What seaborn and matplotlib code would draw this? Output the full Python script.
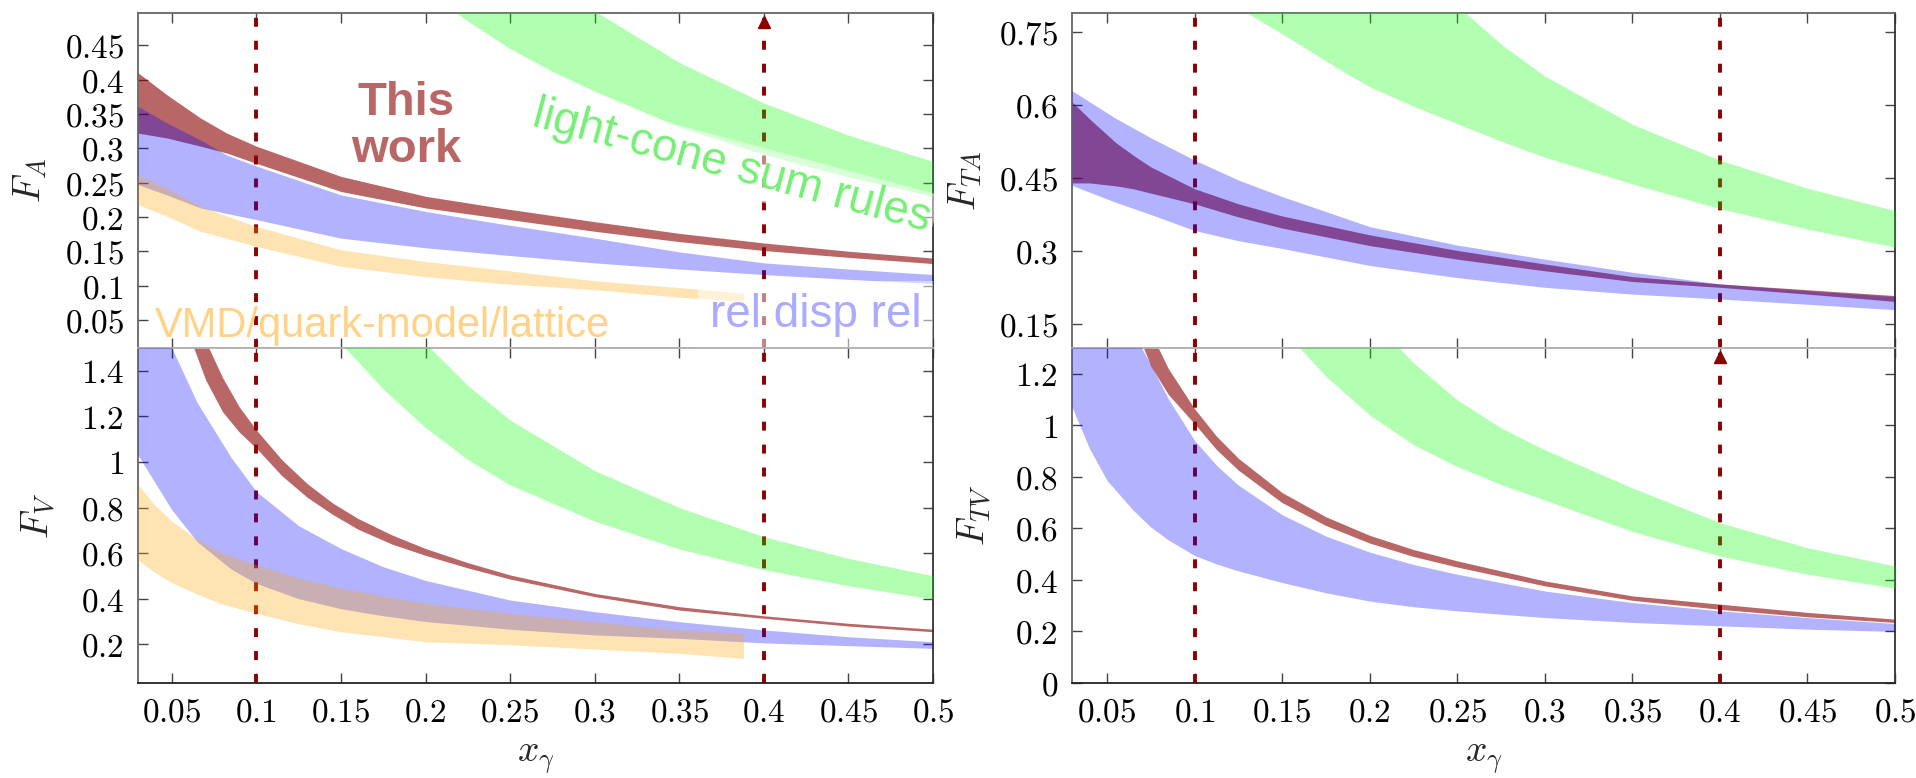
import matplotlib
matplotlib.use("Agg")
import matplotlib.pyplot as plt
import seaborn as sns
from matplotlib.ticker import FuncFormatter

# ---------------- data ----------------
x_cuts = [0.1, 0.4]
x_ticks = [0.05, 0.1, 0.15, 0.2, 0.25, 0.3, 0.35, 0.4, 0.45, 0.5]

# F_A panel
fa_red_x = [0.03, 0.047, 0.067, 0.0825, 0.1, 0.15, 0.2, 0.244, 0.3, 0.35, 0.4, 0.45, 0.5]
fa_red_lo = [0.322, 0.315, 0.303, 0.293, 0.278, 0.237, 0.213, 0.198, 0.179, 0.164, 0.151, 0.141, 0.132]
fa_red_hi = [0.410, 0.378, 0.344, 0.322, 0.303, 0.259, 0.230, 0.213, 0.193, 0.176, 0.162, 0.150, 0.140]
fa_blue_x = [0.03, 0.047, 0.067, 0.0825, 0.1, 0.15, 0.2, 0.244, 0.3, 0.35, 0.4, 0.45, 0.5]
fa_blue_lo = [0.247, 0.232, 0.213, 0.205, 0.196, 0.169, 0.155, 0.145, 0.133, 0.124, 0.116, 0.109, 0.103]
fa_blue_hi = [0.361, 0.337, 0.312, 0.290, 0.274, 0.232, 0.208, 0.190, 0.169, 0.149, 0.133, 0.124, 0.116]
fa_orange_x = [0.03, 0.047, 0.067, 0.1, 0.15, 0.2, 0.244, 0.3, 0.35, 0.388]
fa_orange_lo = [0.218, 0.201, 0.179, 0.157, 0.128, 0.113, 0.103, 0.094, 0.083, 0.077]
fa_orange_hi = [0.261, 0.242, 0.215, 0.186, 0.152, 0.135, 0.123, 0.107, 0.097, 0.089]
fa_green_x = [0.2, 0.225, 0.25, 0.275, 0.3, 0.35, 0.4, 0.45, 0.5]
fa_green_lo = [0.53, 0.485, 0.445, 0.412, 0.383, 0.331, 0.291, 0.258, 0.230]
fa_green_hi = [0.78, 0.69, 0.61, 0.55, 0.50, 0.425, 0.366, 0.319, 0.281]
fa_yticks = [0.05, 0.1, 0.15, 0.2, 0.25, 0.3, 0.35, 0.4, 0.45]

# F_V panel
fv_red_x = [0.06, 0.07, 0.08, 0.09, 0.1, 0.115, 0.13, 0.145, 0.16, 0.18, 0.2, 0.225, 0.25, 0.3, 0.35, 0.4, 0.45, 0.5]
fv_red_lo = [1.56, 1.36, 1.22, 1.13, 1.06, 0.94, 0.845, 0.77, 0.705, 0.64, 0.59, 0.535, 0.486, 0.409, 0.350, 0.314, 0.280, 0.255]
fv_red_hi = [1.72, 1.53, 1.37, 1.24, 1.14, 1.01, 0.905, 0.82, 0.752, 0.68, 0.62, 0.558, 0.504, 0.423, 0.365, 0.325, 0.292, 0.266]
fv_blue_x = [0.03, 0.05, 0.065, 0.085, 0.1, 0.125, 0.15, 0.175, 0.2, 0.25, 0.3, 0.35, 0.4, 0.45, 0.5]
fv_blue_lo = [1.03, 0.79, 0.65, 0.53, 0.467, 0.40, 0.356, 0.325, 0.30, 0.266, 0.241, 0.226, 0.206, 0.194, 0.182]
fv_blue_hi = [1.9, 1.5, 1.26, 1.02, 0.87, 0.72, 0.62, 0.54, 0.48, 0.394, 0.343, 0.299, 0.263, 0.233, 0.211]
fv_orange_x = [0.03, 0.04, 0.05, 0.065, 0.08, 0.1, 0.125, 0.15, 0.2, 0.25, 0.3, 0.35, 0.388]
fv_orange_lo = [0.57, 0.515, 0.47, 0.42, 0.375, 0.336, 0.29, 0.255, 0.211, 0.198, 0.179, 0.160, 0.138]
fv_orange_hi = [0.90, 0.81, 0.74, 0.66, 0.60, 0.548, 0.49, 0.445, 0.38, 0.335, 0.299, 0.263, 0.248]
fv_green_x = [0.14, 0.15, 0.175, 0.2, 0.225, 0.25, 0.3, 0.35, 0.4, 0.45, 0.5]
fv_green_lo = [1.65, 1.52, 1.32, 1.15, 1.01, 0.899, 0.74, 0.618, 0.527, 0.457, 0.398]
fv_green_hi = [2.26, 2.1, 1.77, 1.52, 1.336, 1.184, 0.962, 0.80, 0.672, 0.577, 0.501]
fv_yticks = [0.2, 0.4, 0.6, 0.8, 1.0, 1.2, 1.4]

# F_TA panel
fta_red_x = [0.03, 0.04, 0.055, 0.065, 0.075, 0.1, 0.125, 0.15, 0.2, 0.25, 0.3, 0.35, 0.4, 0.45, 0.5]
fta_red_lo = [0.440, 0.440, 0.434, 0.428, 0.419, 0.397, 0.370, 0.347, 0.311, 0.283, 0.259, 0.237, 0.225, 0.211, 0.196]
fta_red_hi = [0.607, 0.572, 0.523, 0.497, 0.473, 0.428, 0.397, 0.372, 0.333, 0.301, 0.273, 0.247, 0.232, 0.220, 0.208]
fta_blue_x = [0.03, 0.055, 0.075, 0.1, 0.125, 0.15, 0.2, 0.25, 0.3, 0.35, 0.4, 0.45, 0.5]
fta_blue_lo = [0.435, 0.400, 0.375, 0.342, 0.321, 0.305, 0.270, 0.245, 0.225, 0.211, 0.201, 0.190, 0.179]
fta_blue_hi = [0.630, 0.573, 0.533, 0.487, 0.446, 0.412, 0.350, 0.312, 0.283, 0.256, 0.232, 0.218, 0.206]
fta_green_x = [0.12, 0.13, 0.156, 0.185, 0.2, 0.225, 0.25, 0.275, 0.3, 0.35, 0.4, 0.45, 0.5]
fta_green_lo = [0.82, 0.79, 0.734, 0.669, 0.638, 0.598, 0.562, 0.526, 0.493, 0.438, 0.387, 0.345, 0.308]
fta_green_hi = [1.45, 1.38, 1.24, 1.10, 1.03, 0.905, 0.805, 0.726, 0.66, 0.561, 0.487, 0.429, 0.383]
fta_yticks = [0.15, 0.3, 0.45, 0.6, 0.75]

# F_TV panel
ftv_red_x = [0.065, 0.075, 0.085, 0.1, 0.1125, 0.125, 0.15, 0.175, 0.2, 0.225, 0.25, 0.3, 0.35, 0.4, 0.45, 0.5]
ftv_red_lo = [1.40, 1.23, 1.12, 1.006, 0.906, 0.826, 0.700, 0.611, 0.543, 0.491, 0.450, 0.377, 0.321, 0.286, 0.257, 0.235]
ftv_red_hi = [1.55, 1.36, 1.22, 1.064, 0.958, 0.872, 0.739, 0.645, 0.573, 0.518, 0.474, 0.396, 0.338, 0.306, 0.274, 0.248]
ftv_blue_x = [0.03, 0.04, 0.05, 0.065, 0.075, 0.085, 0.1, 0.1125, 0.125, 0.15, 0.175, 0.2, 0.225, 0.25, 0.3, 0.35, 0.4, 0.45, 0.5]
ftv_blue_lo = [1.071, 0.91, 0.786, 0.67, 0.605, 0.555, 0.495, 0.462, 0.435, 0.39, 0.35, 0.318, 0.296, 0.280, 0.254, 0.235, 0.222, 0.209, 0.200]
ftv_blue_hi = [1.9, 1.7, 1.55, 1.36, 1.234, 1.103, 0.941, 0.845, 0.768, 0.653, 0.570, 0.508, 0.460, 0.422, 0.357, 0.312, 0.280, 0.254, 0.231]
ftv_green_x = [0.15, 0.16, 0.175, 0.2, 0.225, 0.25, 0.275, 0.3, 0.35, 0.4, 0.45, 0.5]
ftv_green_lo = [1.38, 1.30, 1.19, 1.04, 0.925, 0.840, 0.77, 0.710, 0.588, 0.493, 0.422, 0.368]
ftv_green_hi = [1.96, 1.82, 1.65, 1.42, 1.243, 1.099, 0.99, 0.905, 0.757, 0.622, 0.525, 0.454]
ftv_yticks = [0, 0.2, 0.4, 0.6, 0.8, 1.0, 1.2]

# ---------------- style ----------------
sns.set_theme(style="ticks")
plt.rcParams["font.family"] = ["DejaVu Serif"]
plt.rcParams["mathtext.fontset"] = "cm"
plt.rcParams["axes.unicode_minus"] = False

RED = "#8b0000"
BLUE = "#0000ff"
ORANGE = "#ffa500"
GREEN = "#00ff00"
SANS = ["Liberation Sans", "DejaVu Sans"]

fig = plt.figure(figsize=(19.16, 7.78), dpi=100)
W, H = 1916.0, 778.0
def rect(x0, x1, y0, y1):
    return [x0 / W, 1 - y1 / H, (x1 - x0) / W, (y1 - y0) / H]

ax_fa = fig.add_axes(rect(138, 933, 13, 348))
ax_fv = fig.add_axes(rect(138, 933, 348, 683))
ax_fta = fig.add_axes(rect(1072, 1895, 13, 348))
ax_ftv = fig.add_axes(rect(1072, 1895, 348, 683))

fmt = FuncFormatter(lambda v, p: f"${v:g}$")

def band(ax, x, lo, hi, color, alpha, z):
    ax.fill_between(x, lo, hi, color=color, alpha=alpha, linewidth=0, zorder=z)

def style(ax, ylim, yticks, bottom, ylabel, lab_x):
    ax.set_xlim(0.03, 0.5)
    ax.set_ylim(*ylim)
    ax.set_xticks(x_ticks)
    ax.set_yticks(yticks)
    ax.xaxis.set_major_formatter(fmt)
    ax.yaxis.set_major_formatter(fmt)
    ax.tick_params(direction="in", top=True, right=True, length=7, width=1.0,
                   color="#444444", labelsize=24, pad=10, labelcolor="black")
    ax.tick_params(axis="x", labelbottom=bottom)
    for s in ax.spines.values():
        s.set_linewidth(1.3)
        s.set_color("#666666")
    if bottom:
        ax.spines["top"].set_color("#b0b0b0")
        ax.spines["bottom"].set_color("#222222")
        ax.set_xlabel(r"$x_\gamma$", fontsize=27)
        ax.xaxis.set_label_coords(0.5, -0.17)
    else:
        ax.spines["bottom"].set_color("#b0b0b0")
    ax.spines["right"].set_color("#333333")
    ax.set_ylabel(ylabel, fontsize=27)
    ax.yaxis.set_label_coords(lab_x, 0.5)
    ax.grid(False)
    for xc in x_cuts:
        ax.axvline(xc, color=RED, lw=2.8, ls=(0, (2.3, 3.6)), zorder=1)

# F_A
band(ax_fa, fa_red_x, fa_red_lo, fa_red_hi, RED, 0.6, 2)
band(ax_fa, fa_blue_x, fa_blue_lo, fa_blue_hi, BLUE, 0.3, 3)
band(ax_fa, fa_orange_x, fa_orange_lo, fa_orange_hi, ORANGE, 0.3, 4)
band(ax_fa, fa_green_x, fa_green_lo, fa_green_hi, GREEN, 0.3, 5)
style(ax_fa, (0.009, 0.497), fa_yticks, False, r"$F_A$", -0.112)

# F_V
band(ax_fv, fv_red_x, fv_red_lo, fv_red_hi, RED, 0.6, 2)
band(ax_fv, fv_blue_x, fv_blue_lo, fv_blue_hi, BLUE, 0.3, 3)
band(ax_fv, fv_orange_x, fv_orange_lo, fv_orange_hi, ORANGE, 0.3, 4)
band(ax_fv, fv_green_x, fv_green_lo, fv_green_hi, GREEN, 0.3, 5)
style(ax_fv, (0.03, 1.5), fv_yticks, True, r"$F_V$", -0.100)

# F_TA
band(ax_fta, fta_red_x, fta_red_lo, fta_red_hi, RED, 0.6, 2)
band(ax_fta, fta_blue_x, fta_blue_lo, fta_blue_hi, BLUE, 0.3, 3)
band(ax_fta, fta_green_x, fta_green_lo, fta_green_hi, GREEN, 0.3, 5)
style(ax_fta, (0.1, 0.79), fta_yticks, False, r"$F_{TA}$", -0.107)

# F_TV
band(ax_ftv, ftv_red_x, ftv_red_lo, ftv_red_hi, RED, 0.6, 2)
band(ax_ftv, ftv_blue_x, ftv_blue_lo, ftv_blue_hi, BLUE, 0.3, 3)
band(ax_ftv, ftv_green_x, ftv_green_lo, ftv_green_hi, GREEN, 0.3, 5)
style(ax_ftv, (0.0, 1.3), ftv_yticks, True, r"$F_{TV}$", -0.095)

# arrow heads at the top of the x=0.4 lines
for ax in (ax_fa, ax_ftv):
    ax.plot([x_cuts[1]], [0.973], marker="^", ms=8, color=RED,
            transform=ax.get_xaxis_transform(), clip_on=False, zorder=6)

# labels in the F_A panel
ax_fa.text(0.1885, 0.3314, "This\nwork", fontsize=34, fontweight="bold",
           family=SANS, color="#b96666", ha="center", va="center",
           linespacing=1.09, zorder=7)
ax_fa.text(0.3808, 0.273, "light-cone sum rules", fontsize=33, family=SANS,
           color="#74f074", ha="center", va="center", rotation=-15, zorder=7,
           bbox=dict(boxstyle="square,pad=0.1", fc="white", ec="none", alpha=0.5))
ax_fa.text(0.4305, 0.0573, "rel disp rel", fontsize=33, family=SANS,
           color="#aaaaff", ha="center", va="center", zorder=7,
           bbox=dict(boxstyle="square,pad=0.25", fc="white", ec="none", alpha=0.5))
ax_fa.text(0.040, 0.0252, "VMD/quark-model/lattice", fontsize=30, family=SANS,
           color="#ffd285", ha="left", va="baseline", zorder=7)

fig.savefig("out.png", dpi=100)
